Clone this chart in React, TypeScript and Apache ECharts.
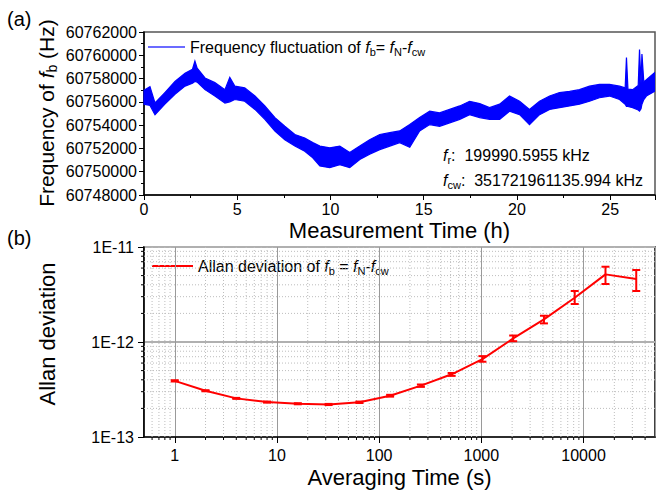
import React, { useEffect, useRef } from "react";
import * as echarts from "echarts";

const FONT = '"Liberation Sans", Arial, Helvetica, sans-serif';

// ---- Panel (a): frequency of f_b vs time (envelope of the noisy trace) ----
const timeHours = [
  0, 0.32, 0.59, 1.12, 1.66, 2.2, 2.6, 2.73, 2.85, 3.27, 3.8, 4.34, 4.6, 4.87, 5.4, 5.95,
  6.48, 7.02, 7.55, 8.09, 8.62, 9.05, 9.43, 9.96, 10.5, 11.03, 11.57, 12.1, 12.64, 13.18,
  13.71, 14.25, 14.78, 15.32, 15.85, 16.39, 16.93, 17.46, 18.0, 18.53, 19.07, 19.6, 20.14,
  20.67, 21.21, 21.75, 22.28, 22.82, 23.35, 23.89, 24.42, 24.96, 25.5, 25.8, 25.87, 25.95,
  26.2, 26.5, 26.57, 26.65, 26.7, 26.8, 26.94, 27.37,
];
const freqUpper = [
  60757000, 60757300, 60755900, 60756800, 60757750, 60758450, 60758800, 60759500, 60758900,
  60758050, 60757650, 60757050, 60758100, 60757350, 60757200, 60756500, 60755650, 60754650,
  60753900, 60753200, 60752900, 60752500, 60752200, 60752050, 60752200, 60751650, 60752200,
  60752750, 60753200, 60753350, 60753500, 60754050, 60754650, 60755200, 60755050, 60755350,
  60755650, 60756050, 60755850, 60755500, 60755800, 60756500, 60756050, 60755350, 60756050,
  60756500, 60756800, 60756900, 60757050, 60757350, 60757500, 60757500, 60757350, 60757200,
  60759800, 60757100, 60757050, 60757400, 60760500, 60757600, 60760100, 60757700, 60757900,
  60758500,
];
const freqLower = [
  60755800, 60755700, 60754900, 60755800, 60756650, 60757350, 60757600, 60757750, 60757700,
  60757050, 60756500, 60755900, 60756000, 60756200, 60756050, 60755350, 60754500, 60753500,
  60752750, 60752200, 60751750, 60751200, 60750500, 60750350, 60750600, 60750350, 60751050,
  60751500, 60751900, 60752200, 60752500, 60752100, 60753500, 60754050, 60753900, 60754200,
  60754500, 60754900, 60754650, 60754500, 60754500, 60755200, 60754900, 60754050, 60754900,
  60755350, 60755500, 60755650, 60755800, 60756050, 60756350, 60756500, 60756200, 60755800,
  60755600, 60755600, 60755500, 60755300, 60755200, 60755400, 60755800, 60756200, 60756500,
  60756900,
];
const freqAxisMin = 60748000;
const freqAxisMax = 60762000;
const freqAxisStep = 2000;
const timeAxisMax = 27.4;

// ---- Panel (b): Allan deviation ----
const tauSeconds = [1, 2, 4, 8, 16, 32, 64, 128, 256, 512, 1024, 2048, 4096, 8192, 16384, 32768];
const allanDev = [
  3.9e-13, 3.07e-13, 2.55e-13, 2.33e-13, 2.24e-13, 2.2e-13, 2.32e-13, 2.72e-13, 3.47e-13,
  4.57e-13, 6.6e-13, 1.09e-12, 1.73e-12, 2.92e-12, 5.15e-12, 4.6e-12,
];
const allanErrLow = [
  3.84e-13, 3.03e-13, 2.52e-13, 2.3e-13, 2.21e-13, 2.17e-13, 2.28e-13, 2.66e-13, 3.37e-13,
  4.4e-13, 6.2e-13, 1.02e-12, 1.57e-12, 2.51e-12, 4.08e-12, 3.44e-12,
];
const allanErrHigh = [
  3.96e-13, 3.11e-13, 2.58e-13, 2.36e-13, 2.27e-13, 2.23e-13, 2.36e-13, 2.78e-13, 3.57e-13,
  4.72e-13, 7.1e-13, 1.17e-12, 1.89e-12, 3.44e-12, 6.2e-12, 5.73e-12,
];
const tauMinorGrid = [
  0.6, 0.7, 0.8, 0.9, 2, 3, 4, 5, 6, 7, 8, 9, 20, 30, 40, 50, 60, 70, 80, 90, 200, 300, 400,
  500, 600, 700, 800, 900, 2000, 3000, 4000, 5000, 6000, 7000, 8000, 9000, 20000, 30000, 40000,
];
const adevMinorGrid = [
  2e-13, 3e-13, 4e-13, 5e-13, 6e-13, 7e-13, 8e-13, 9e-13, 2e-12, 3e-12, 4e-12, 5e-12, 6e-12,
  7e-12, 8e-12, 9e-12,
];

function rich(size: number, sub: number) {
  const lh = size + 4;
  return {
    n: { fontSize: size, fontFamily: FONT, color: "#000", fill: "#000", lineHeight: lh },
    i: { fontSize: size, fontFamily: FONT, fontStyle: "italic", color: "#000", fill: "#000", lineHeight: lh },
    s: { fontSize: sub, fontFamily: FONT, color: "#000", fill: "#000", lineHeight: sub, padding: [lh - sub, 0, 0, 0] },
  };
}

export default function App() {
  const ref = useRef<HTMLDivElement>(null);
  useEffect(() => {
    if (!ref.current) return;
    const chart = echarts.init(ref.current, null, { renderer: "svg" });

    const band = (params: any, api: any) => {
      const up = timeHours.map((t, i) => api.coord([t, freqUpper[i]]));
      const lo = timeHours.map((t, i) => api.coord([t, freqLower[i]])).reverse();
      return {
        type: "polygon",
        shape: { points: up.concat(lo) },
        style: { fill: "#0000ff", stroke: "#0000ff", lineWidth: 1.2 },
      };
    };
    const minorX = (params: any, api: any) => {
      const cs = params.coordSys;
      const x = api.coord([api.value(0), 1e-12])[0];
      const b = cs.y + cs.height;
      return {
        type: "group",
        children: [
          { type: "line", shape: { x1: x, y1: cs.y, x2: x, y2: b }, style: { stroke: "#bdbdbd", lineWidth: 1, lineDash: [1, 2] } },
          { type: "line", shape: { x1: x, y1: b, x2: x, y2: b + 3 }, style: { stroke: "#000", lineWidth: 1 } },
        ],
      };
    };
    const minorY = (params: any, api: any) => {
      const cs = params.coordSys;
      const y = api.coord([1, api.value(1)])[1];
      return {
        type: "group",
        children: [
          { type: "line", shape: { x1: cs.x, y1: y, x2: cs.x + cs.width, y2: y }, style: { stroke: "#bdbdbd", lineWidth: 1, lineDash: [1, 2] } },
          { type: "line", shape: { x1: cs.x - 3, y1: y, x2: cs.x, y2: y }, style: { stroke: "#000", lineWidth: 1 } },
        ],
      };
    };
    const errBar = (params: any, api: any) => {
      const x = api.value(0);
      const pLo = api.coord([x, api.value(1)]);
      const pHi = api.coord([x, api.value(2)]);
      const w = 4;
      const st = { stroke: "#ff0000", lineWidth: 2 };
      return {
        type: "group",
        children: [
          { type: "line", shape: { x1: pLo[0], y1: pLo[1], x2: pHi[0], y2: pHi[1] }, style: st },
          { type: "line", shape: { x1: pLo[0] - w, y1: pLo[1], x2: pLo[0] + w, y2: pLo[1] }, style: st },
          { type: "line", shape: { x1: pHi[0] - w, y1: pHi[1], x2: pHi[0] + w, y2: pHi[1] }, style: st },
        ],
      };
    };

    const axisText = { color: "#000", fontFamily: FONT, fontSize: 16 };

    chart.setOption({
      animation: false,
      grid: [
        { left: 144, top: 32, width: 511, height: 163, show: true, borderColor: "#555", borderWidth: 1.5, backgroundColor: "transparent" },
        { left: 144, top: 247, width: 511, height: 190, show: true, borderColor: "#000", borderWidth: 1.5, backgroundColor: "transparent" },
      ],
      xAxis: [
        {
          type: "value", gridIndex: 0, min: 0, max: timeAxisMax, interval: 5,
          axisLine: { lineStyle: { color: "#000", width: 1.5 } },
          axisTick: { length: 5, lineStyle: { color: "#000" } },
          minorTick: { show: true, splitNumber: 2, length: 3, lineStyle: { color: "#000" } },
          splitLine: { show: false },
          axisLabel: { ...axisText, margin: 6, showMaxLabel: false, formatter: (v: number) => String(v) },
          name: "Measurement Time (h)", nameLocation: "middle", nameGap: 24,
          nameTextStyle: { color: "#000", fontFamily: FONT, fontSize: 22, verticalAlign: "top" },
        },
        {
          type: "log", logBase: 10, gridIndex: 1, min: 0.5, max: 50000, splitNumber: 5,
          axisLine: { lineStyle: { color: "#000", width: 1.5 } },
          axisTick: { length: 6, lineStyle: { color: "#000" } },
          splitLine: { show: true, lineStyle: { color: "#9a9a9a", width: 1 } },
          axisLabel: { ...axisText, margin: 10, showMinLabel: false, showMaxLabel: false, formatter: (v: number) => String(Math.round(v)) },
          name: "Averaging Time (s)", nameLocation: "middle", nameGap: 29,
          nameTextStyle: { color: "#000", fontFamily: FONT, fontSize: 22, verticalAlign: "top" },
        },
      ],
      yAxis: [
        {
          type: "value", gridIndex: 0, min: freqAxisMin, max: freqAxisMax, interval: freqAxisStep,
          axisLine: { show: true, lineStyle: { color: "#000", width: 1.5 } },
          axisTick: { show: true, length: 5, lineStyle: { color: "#000" } },
          minorTick: { show: true, splitNumber: 2, length: 3, lineStyle: { color: "#000" } },
          splitLine: { show: false },
          axisLabel: { ...axisText, margin: 7, formatter: (v: number) => String(v) },
        },
        {
          type: "log", logBase: 10, gridIndex: 1, min: 1e-13, max: 1e-11, splitNumber: 2,
          axisLine: { show: true, lineStyle: { color: "#000", width: 1.5 } },
          axisTick: { show: true, length: 6, lineStyle: { color: "#000" } },
          splitLine: { show: true, lineStyle: { color: "#b0b0b0", width: 2 } },
          axisLabel: { ...axisText, margin: 10, formatter: (v: number) => "1E" + Math.round(Math.log10(v)) },
        },
      ],
      series: [
        {
          type: "custom", name: "Frequency fluctuation of fb = fN - fcw", xAxisIndex: 0, yAxisIndex: 0, silent: true, z: 3,
          data: [[timeHours[0], freqLower[0]]], renderItem: band,
        },
        {
          type: "custom", name: "minorX", xAxisIndex: 1, yAxisIndex: 1, silent: true, z: 1,
          data: tauMinorGrid.map((v) => [v, 1e-12]), renderItem: minorX,
        },
        {
          type: "custom", name: "minorY", xAxisIndex: 1, yAxisIndex: 1, silent: true, z: 1,
          data: adevMinorGrid.map((v) => [1, v]), renderItem: minorY,
        },
        {
          type: "line", name: "Allan deviation", xAxisIndex: 1, yAxisIndex: 1, symbol: "none",
          data: tauSeconds.map((t, i) => [t, allanDev[i]]),
          lineStyle: { color: "#ff0000", width: 2 }, z: 4,
        },
        {
          type: "custom", name: "errors", xAxisIndex: 1, yAxisIndex: 1, silent: true, z: 5,
          encode: { x: 0, y: [1, 2] },
          data: tauSeconds.map((t, i) => [t, allanErrLow[i], allanErrHigh[i]]), renderItem: errBar,
        },
      ],
      graphic: [
        { type: "text", x: 7, y: 9, style: { text: "(a)", fontSize: 20, fontFamily: FONT, fill: "#000" } },
        { type: "text", x: 7, y: 228, style: { text: "(b)", fontSize: 20, fontFamily: FONT, fill: "#000" } },
        {
          type: "text", x: 46, y: 113, rotation: Math.PI / 2,
          style: { text: "{n|Frequency of }{i|f}{s|b}{n| (Hz)}", rich: rich(21, 14), align: "center", verticalAlign: "middle", fill: "#000" },
        },
        {
          type: "text", x: 47, y: 334, rotation: Math.PI / 2,
          style: { text: "Allan deviation", fontSize: 22, fontFamily: FONT, fill: "#000", align: "center", verticalAlign: "middle" },
        },
        { type: "line", shape: { x1: 148, y1: 47, x2: 185, y2: 47 }, style: { stroke: "#3a3aff", lineWidth: 1.5 } },
        {
          type: "text", x: 190, y: 47,
          style: { text: "{n|Frequency fluctuation of }{i|f}{s|b}{n|= }{i|f}{s|N}{n|-}{i|f}{s|cw}", rich: rich(16, 11), verticalAlign: "middle", fill: "#000" },
        },
        { type: "line", shape: { x1: 152, y1: 266, x2: 193, y2: 266 }, style: { stroke: "#ff0000", lineWidth: 2 } },
        {
          type: "text", x: 198, y: 266,
          style: { text: "{n|Allan deviation of }{i|f}{s|b}{n| = }{i|f}{s|N}{n|-}{i|f}{s|cw}", rich: rich(16, 11), verticalAlign: "middle", fill: "#000" },
        },
        {
          type: "text", x: 443, y: 155,
          style: { text: "{i|f}{s|r}{n|:  199990.5955 kHz}", rich: rich(16, 11), verticalAlign: "middle", fill: "#000" },
        },
        {
          type: "text", x: 443, y: 180,
          style: { text: "{i|f}{s|cw}{n|:  351721961135.994 kHz}", rich: rich(16, 11), verticalAlign: "middle", fill: "#000" },
        },
      ],
    });
    return () => chart.dispose();
  }, []);
  return <div ref={ref} style={{ position: "fixed", left: 0, top: 0, width: 656, height: 491, background: "#fff" }} />;
}
